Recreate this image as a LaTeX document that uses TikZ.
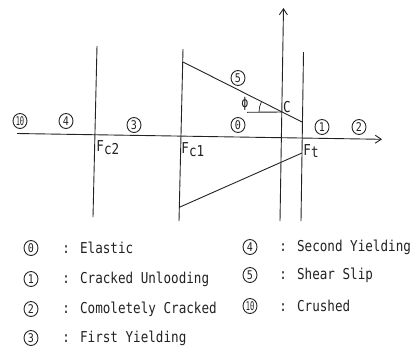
\documentclass[tikz,border=0pt]{standalone}
\usepackage{fontspec}
\usetikzlibrary{arrows.meta,shapes.geometric}
\newfontfamily\lbl[FakeStretch=0.84]{DejaVu Sans Mono}
\definecolor{ink}{HTML}{222222}
\begin{document}
\begin{tikzpicture}[x=1pt,y=-1pt,color=ink,line width=0.9pt,
  axisarrow/.style={-{Straight Barb[length=6pt,width=8pt]}},
  num/.style={ellipse,draw=ink,line width=0.9pt,minimum width=14pt,minimum height=15pt,inner sep=0pt,
    font=\lbl\fontsize{12}{12}\selectfont},
  legtext/.style={anchor=west,inner sep=0pt,font=\lbl\fontsize{15}{15}\selectfont},
  ftext/.style={anchor=north west,inner sep=0pt,font=\lbl\fontsize{15}{15}\selectfont}]
\useasboundingbox (0,0) rectangle (414,349);
% axes
\coordinate (hx0) at (17,133.5);
\coordinate (hx1) at (382,139.3);
\draw[axisarrow] (hx0) -- (hx1);
\coordinate (vb) at (280,221);
\coordinate (vt) at (283.5,8);
\draw[axisarrow] (vb) -- (vt);
% vertical limit lines
\coordinate (fc2t) at (97,46);   \coordinate (fc2b) at (93,217);
\coordinate (fc1t) at (183,49);  \coordinate (fc1b) at (179,221);
\coordinate (ftt) at (303.5,52); \coordinate (ftb) at (301,221);
\draw (fc2t) -- (fc2b);
\draw (fc1t) -- (fc1b);
\draw (ftt) -- (ftb);
% shear slip lines
\coordinate (u0) at (183,62);  \coordinate (u1) at (302,122);
\coordinate (l0) at (180,207); \coordinate (l1) at (302,153);
\draw (u0) -- (u1);
\draw (l0) -- (l1);
% angle
\coordinate (C) at (282,112);
\coordinate (h0) at (247,112.3);
\draw (h0) -- (C);
\draw[line width=0.7pt] (C) ++(180:23) arc[start angle=180,end angle=206.8,radius=23];
% region labels
\node[num] (n5) at (238,78) {5};
\node[num] (n0) at (238,125) {0};
\node[num] (n3) at (134,125) {3};
\node[num] (n4) at (66,121) {4};
\node[num] (n10) at (20,121) {\scalebox{0.7}[1]{10}};
\node[num] (n1) at (322,127) {1};
\node[num] (n2) at (359,127) {2};
% point labels
\node[inner sep=0pt,font=\lbl\fontsize{14}{14}\selectfont] (phi) at (245,104) {ϕ};
\node[inner sep=0pt,font=\lbl\fontsize{15}{15}\selectfont] (Clab) at (287,107) {C};
\node[ftext] (Fc2) at (96,140) {F\raisebox{-3pt}{c2}};
\node[ftext] (Fc1) at (181,142) {F\raisebox{-3pt}{c1}};
\node[ftext] (Ft) at (303,144) {F\raisebox{-2pt}{t}};
% legend
\node[num] (k0) at (31,248) {0};
\node[legtext] (t0) at (62,248) {: Elastic};
\node[num] (k1) at (31,279) {1};
\node[legtext] (t1) at (62,279) {: Cracked Unlooding};
\node[num] (k2) at (31,309) {2};
\node[legtext] (t2) at (62,309) {: Comoletely Cracked};
\node[num] (k3) at (31,338) {3};
\node[legtext] (t3) at (62,338) {: First Yielding};
\node[num] (k4) at (250,247) {4};
\node[legtext] (t4) at (279,247) {: Second Yielding};
\node[num] (k5) at (250,275) {5};
\node[legtext] (t5) at (279,275) {: Shear Slip};
\node[num] (k10) at (250,306) {\scalebox{0.7}[1]{10}};
\node[legtext] (t10) at (279,306) {: Crushed};
\end{tikzpicture}
\end{document}
